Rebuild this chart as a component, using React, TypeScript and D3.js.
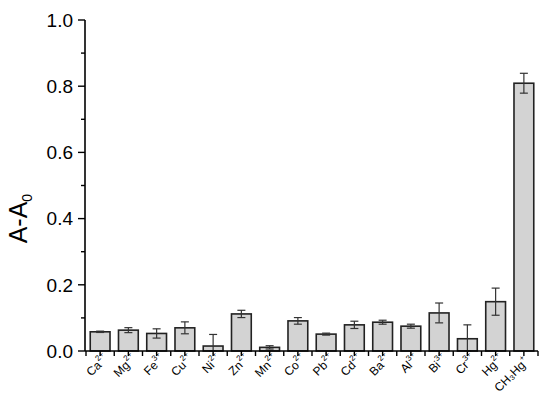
import React from 'react';
import * as d3 from 'd3';

// ion names, their charges and the measured response
const ions = ['Ca', 'Mg', 'Fe', 'Cu', 'Ni', 'Zn', 'Mn', 'Co', 'Pb', 'Cd', 'Ba', 'Al', 'Bi', 'Cr', 'Hg', 'CH3Hg'];
const charges = ['2+', '2+', '3+', '2+', '2+', '2+', '2+', '2+', '2+', '2+', '2+', '3+', '3+', '3+', '2+', '+'];
const values = [0.058, 0.063, 0.053, 0.070, 0.015, 0.112, 0.011, 0.091, 0.051, 0.079, 0.087, 0.075, 0.115, 0.037, 0.149, 0.809];
const errors = [0.002, 0.0075, 0.014, 0.018, 0.035, 0.011, 0.005, 0.01, 0.003, 0.011, 0.006, 0.006, 0.03, 0.042, 0.041, 0.03];
const yTicks = [0, 0.2, 0.4, 0.6, 0.8, 1.0];
const yMinor = [0.1, 0.3, 0.5, 0.7, 0.9];

const width = 550;
const height = 406;
const margin = { top: 20, right: 12, bottom: 55, left: 85 };
const diag = Math.SQRT1_2;

const App = () => {
    const x = d3.scaleBand()
        .domain(ions)
        .range([margin.left + 1, width - margin.right])
        .paddingInner(0.3)
        .paddingOuter(0.15);
    const y = d3.scaleLinear()
        .domain([0, 1])
        .range([height - margin.bottom, margin.top]);

    const step = x.step();
    const x0 = margin.left;
    const x1 = width - margin.right;
    const yBase = y(0);
    const bounds = ions.map(d => x(d)! - step * x.paddingInner() / 2);
    bounds.push(x1);
    const centre = (d: string) => x(d)! + x.bandwidth() / 2;

    // 45 degree guide paths for the labels: name ends at the anchor, charge runs on a parallel line above
    const labY = yBase + 15;
    const namePath = (d: string) => {
        const ax = centre(d) + 2;
        return `M${ax - 60 * diag},${labY + 60 * diag}L${ax},${labY}`;
    };
    const chargePath = (d: string) => {
        const ax = centre(d) + 2 - 6 * diag + 0.5 * diag;
        const ay = labY - 6 * diag - 0.5 * diag;
        return `M${ax},${ay}L${ax + 30 * diag},${ay - 30 * diag}`;
    };

    return (
        <svg width={width} height={height} style={{ position: 'absolute', left: 0, top: 0, fontFamily: 'Arial' }}>
            <defs>
                {ions.map((d, i) => <path key={'np' + d} id={'name-path-' + i} d={namePath(d)} fill="none" />)}
                {ions.map((d, i) => <path key={'cp' + d} id={'charge-path-' + i} d={chargePath(d)} fill="none" />)}
            </defs>
            {/* bars */}
            {ions.map((d, i) => (
                <rect key={'bar' + d}
                    x={x(d)} y={y(values[i])}
                    width={x.bandwidth()} height={yBase - y(values[i])}
                    fill="#d3d3d3" stroke="#222" strokeWidth="1.6" />
            ))}
            {/* error bars */}
            {ions.map((d, i) => {
                const cx = centre(d);
                const hi = y(values[i] + errors[i]);
                const lo = y(Math.max(0, values[i] - errors[i]));
                return (
                    <g key={'err' + d} stroke="#333" strokeWidth="1.2">
                        <line x1={cx} x2={cx} y1={hi} y2={lo} />
                        <line x1={cx - 4} x2={cx + 4} y1={hi} y2={hi} />
                        <line x1={cx - 4} x2={cx + 4} y1={lo} y2={lo} />
                    </g>
                );
            })}
            {/* y axis */}
            <line x1={x0} x2={x0} y1={y(1)} y2={yBase} stroke="#000" strokeWidth="1.6" />
            {yTicks.map(t => (
                <line key={'yt' + t} x1={x0 - 7} x2={x0} y1={y(t)} y2={y(t)} stroke="#000" strokeWidth="1.4" />
            ))}
            {yTicks.map(t => (
                <text key={'yl' + t} x={x0 - 12} y={y(t)} dy="0.36em" textAnchor="end" fontSize="19">{d3.format('.1f')(t)}</text>
            ))}
            {yMinor.map(t => (
                <line key={'ym' + t} x1={x0 - 4} x2={x0} y1={y(t)} y2={y(t)} stroke="#000" strokeWidth="1.4" />
            ))}
            <text transform={`translate(27,${y(0.4)}) rotate(-90)`} textAnchor="middle" fontSize="25">
                A-A<tspan fontSize="14" dy="5">0</tspan>
            </text>
            {/* x axis */}
            <line x1={x0} x2={x1} y1={yBase} y2={yBase} stroke="#000" strokeWidth="1.6" />
            {bounds.map((b, i) => (
                <line key={'xb' + i} x1={b} x2={b} y1={yBase} y2={yBase + 5} stroke="#000" strokeWidth="1.4" />
            ))}
            {ions.map(d => (
                <line key={'xt' + d} x1={centre(d)} x2={centre(d)} y1={yBase} y2={yBase + 5} stroke="#000" strokeWidth="1.4" />
            ))}
            {/* ion labels along 45 degree paths */}
            {ions.map((d, i) => (
                <text key={'lab' + d} fontSize="12" textAnchor="end">
                    <textPath href={'#name-path-' + i} startOffset="100%">
                        {d === 'CH3Hg' ? 'CH\u2083Hg' : d}
                    </textPath>
                </text>
            ))}
            {ions.map((d, i) => (
                <text key={'chg' + d} fontSize="8">
                    <textPath href={'#charge-path-' + i}>{charges[i]}</textPath>
                </text>
            ))}
        </svg>
    );
}

export default App;
